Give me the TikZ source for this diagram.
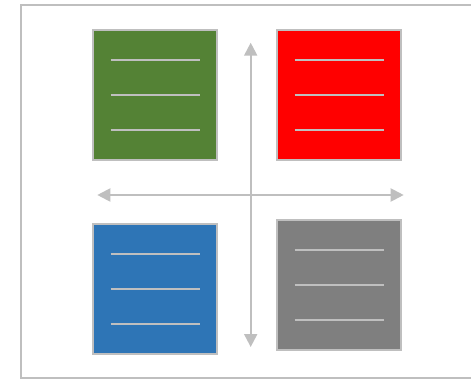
\documentclass[tikz,border=0pt]{standalone}
\usetikzlibrary{arrows.meta}
\definecolor{quadgreen}{HTML}{548235}
\definecolor{quadred}{HTML}{FF0000}
\definecolor{quadblue}{HTML}{2E75B6}
\definecolor{quadgray}{HTML}{7F7F7F}
\definecolor{rule}{HTML}{BFBFBF}
\begin{document}
\begin{tikzpicture}[x=1pt,y=-1pt,
  quadbox/.style={draw=rule,line width=2pt,minimum width=124pt,minimum height=130pt,inner sep=0pt},
  textline/.style={draw=rule,line width=2pt},
  axis/.style={draw=rule,line width=2pt,{Triangle[width=13pt,length=13pt]}-{Triangle[width=13pt,length=13pt]}}]
  \useasboundingbox (0,0) rectangle (471,379);
  % outer frame, its right side lies past the page edge
  \draw[rule,line width=2pt] (20.7,4.8) rectangle (480,378);
  % quadrant boxes
  \node[quadbox,fill=quadgreen] (q1) at (155,94.8) {};
  \node[quadbox,fill=quadred]   (q2) at (339,94.8) {};
  \node[quadbox,fill=quadblue]  (q3) at (155,289)  {};
  \node[quadbox,fill=quadgray]  (q4) at (339,284.8) {};
  % three text rules inside each box
  \foreach \q in {q1,q2,q3,q4}{
    \foreach \dy in {-35,0,35}{
      \draw[textline] ([shift={(-44.5,\dy)}]\q.center) -- ([shift={(44.5,\dy)}]\q.center);
    }
  }
  % axes
  \coordinate (vtop) at (250.7,42.7);
  \coordinate (vbot) at (250.7,347);
  \coordinate (hleft) at (97.3,195);
  \coordinate (hright) at (403.7,195);
  \draw[axis] (vtop) -- (vbot);
  \draw[axis] (hleft) -- (hright);
\end{tikzpicture}
\end{document}
